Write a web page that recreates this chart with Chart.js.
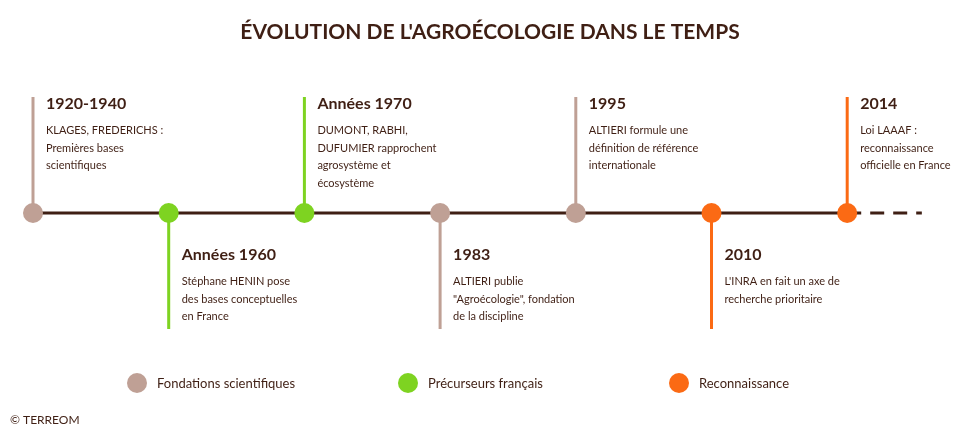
<!DOCTYPE html>
<html><head><meta charset="utf-8">
<script src="https://cdn.jsdelivr.net/npm/chart.js@4"></script>
<style>html,body{margin:0;padding:0;background:#fff}#w{width:980px;height:438px}</style>
</head><body><div id="w"><canvas id="c"></canvas></div>
<script>
const years = ["1920-1940","Années 1960","Années 1970","1983","1995","2010","2014"];
const descriptions = [
 ["KLAGES, FREDERICHS :","Premières bases","scientifiques"],
 ["Stéphane HENIN pose","des bases conceptuelles","en France"],
 ["DUMONT, RABHI,","DUFUMIER rapprochent","agrosystème et","écosystème"],
 ["ALTIERI publie","\"Agroécologie\", fondation","de la discipline"],
 ["ALTIERI formule une","définition de référence","internationale"],
 ["L'INRA en fait un axe de","recherche prioritaire"],
 ["Loi LAAAF :","reconnaissance","officielle en France"]
];
const categoryOf = [0,1,1,0,0,2,2];
const directions = [1,-1,1,-1,1,-1,1];
const categories = ["Fondations scientifiques","Précurseurs français","Reconnaissance"];
const catColors = ["#bfa095","#7ed321","#fb6a14"];
const dark = "#3f1f14";

const idx = years.map((_,i)=>i);
const datasets = [];
datasets.push({type:'scatter',data:idx.map(i=>({x:i,y:0})),pointRadius:10,pointHoverRadius:10,
  pointBackgroundColor:idx.map(i=>catColors[categoryOf[i]]),pointBorderWidth:0,order:0});
datasets.push({type:'line',data:[{x:0,y:0},{x:6,y:0}],borderColor:dark,borderWidth:3,pointRadius:0,order:2});
datasets.push({type:'line',data:[{x:6,y:0},{x:6.55,y:0}],borderColor:dark,borderWidth:3,borderDash:[14,9],pointRadius:0,order:2});
idx.forEach(i=>datasets.push({type:'line',data:[{x:i,y:0},{x:i,y:directions[i]}],
  borderColor:catColors[categoryOf[i]],borderWidth:3,pointRadius:0,order:1}));

const textPlugin = {id:'txt',afterDatasetsDraw(ch){
  const c=ch.ctx,xs=ch.scales.x,ys=ch.scales.y;
  c.save();c.fillStyle=dark;c.textBaseline='alphabetic';
  c.textAlign='center';c.font='bold 21px Lato';
  c.fillText("ÉVOLUTION DE L'AGROÉCOLOGIE DANS LE TEMPS",490,39);
  c.textAlign='left';
  idx.forEach(i=>{
    const x=xs.getPixelForValue(i)+13;
    const top = directions[i]>0 ? ys.getPixelForValue(1)+12 : ys.getPixelForValue(0)+47;
    c.font='bold 16px Lato';c.fillText(years[i],x,top);
    c.font='11px Lato';
    descriptions[i].forEach((l,k)=>c.fillText(l,x,top+25+k*17.5));
  });
  const lx=[137,408,679];
  categories.forEach((t,k)=>{
    c.fillStyle=catColors[k];c.beginPath();c.arc(lx[k],383,10,0,Math.PI*2);c.fill();
    c.fillStyle=dark;c.font='13px Lato';c.fillText(t,lx[k]+20,388);
  });
  c.font='12px Lato';c.fillText("© TERREOM",10,424);
  c.restore();
}};

new Chart(document.getElementById('c'),{
  data:{datasets},
  options:{responsive:true,maintainAspectRatio:false,animation:false,
    layout:{padding:0},
    plugins:{legend:{display:false},tooltip:{enabled:false}},
    scales:{x:{type:'linear',display:false,min:-23/135.7,max:937/135.7},
            y:{type:'linear',display:false,min:-215/116,max:203/116}}},
  plugins:[textPlugin]
});
</script></body></html>
